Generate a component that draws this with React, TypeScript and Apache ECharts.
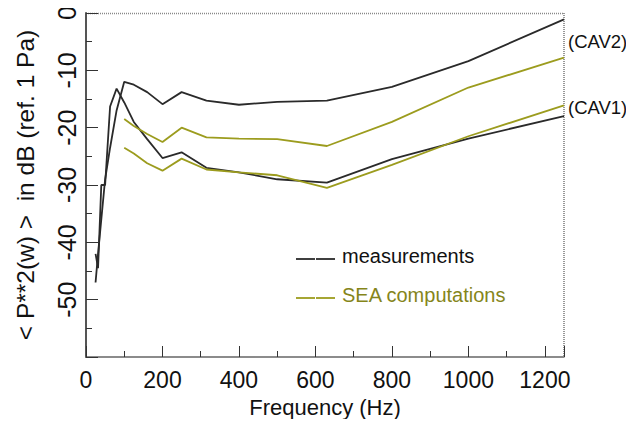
import React, { useEffect, useRef } from "react";
import * as echarts from "echarts";

const freqs = [25, 31.5, 40, 50, 63, 80, 100, 125, 160, 200, 250, 315, 400, 500, 630, 800, 1000, 1250];
const measCav2 = [-47, -42, -36, -29, -23.5, -17, -12, -12.5, -13.8, -15.9, -13.8, -15.3, -16, -15.5, -15.3, -12.9, -8.4, -1.1];
const measCav1 = [-42, -44.5, -30, -30, -16.3, -13.2, -15.6, -19, -22, -25.3, -24.3, -27, -27.8, -29, -29.6, -25.5, -21.9, -18];
const seaFreqs = [100, 125, 160, 200, 250, 315, 400, 500, 630, 800, 1000, 1250];
const seaCav2 = [-18.5, -19.7, -21.1, -22.5, -20, -21.7, -21.9, -22, -23.2, -19, -13, -7.8];
const seaCav1 = [-23.5, -24.5, -26.2, -27.5, -25.4, -27.3, -27.8, -28.3, -30.5, -26.5, -21.5, -16.1];
const xTicks = [0, 200, 400, 600, 800, 1000, 1200];
const yTicks = [0, -10, -20, -30, -40, -50];

const FONT = '"Liberation Sans Narrow", "Arial Narrow", "Liberation Sans", Arial, sans-serif';
const BLACK = "#2a2a2a";
const OLIVE = "#9c9c1e";
const OLIVE_TEXT = "#85851a";

export default function App() {
  const ref = useRef<HTMLDivElement>(null);
  useEffect(() => {
    if (!ref.current) return;
    const chart = echarts.init(ref.current, null, { renderer: "svg" });
    const pair = (xs: number[], ys: number[]) => xs.map((x, i) => [x, ys[i]]);
    const lineSeries = (name: string, data: number[][], color: string) => ({
      type: "line",
      name,
      data,
      showSymbol: false,
      symbol: "none",
      lineStyle: { color, width: 1.8 },
      itemStyle: { color },
    });
    chart.setOption({
      animation: false,
      backgroundColor: "#ffffff",
      grid: { left: 86, right: 70, top: 13, bottom: 70, show: false },
      xAxis: {
        type: "value",
        min: 0,
        max: 1250,
        interval: 200,
        name: "Frequency (Hz)",
        nameLocation: "middle",
        nameGap: 39,
        nameTextStyle: { fontFamily: FONT, fontSize: 22, color: "#111" },
        axisLine: { show: true, onZero: false, lineStyle: { color: "#666", width: 1.5 } },
        axisTick: { show: true, inside: true, length: 11, lineStyle: { color: "#333", width: 1 } },
        minorTick: { show: true, splitNumber: 2, length: 6, lineStyle: { color: "#333", width: 1 } },
        splitLine: { show: false },
        axisLabel: {
          showMaxLabel: false,
          fontFamily: FONT,
          fontSize: 23,
          color: "#111",
          margin: 11,
          formatter: (v: number) => (xTicks.includes(v) ? String(v) : ""),
        },
      },
      yAxis: {
        type: "value",
        min: -60,
        max: 0,
        interval: 10,
        name: "< P**2(w) >  in dB (ref. 1 Pa)",
        nameLocation: "middle",
        nameGap: 48,
        nameRotate: 90,
        nameTextStyle: { fontFamily: FONT, fontSize: 24.5, color: "#111" },
        axisLine: { show: true, onZero: false, lineStyle: { color: "#555", width: 2 } },
        axisTick: { show: true, inside: true, length: 12, lineStyle: { color: "#333", width: 1 } },
        minorTick: { show: true, splitNumber: 2, length: 6, lineStyle: { color: "#333", width: 1 } },
        splitLine: { show: false },
        axisLabel: {
          rotate: 90,
          fontFamily: FONT,
          fontSize: 25,
          color: "#111",
          margin: 7,
          formatter: (v: number) => (yTicks.includes(v) ? String(v) : ""),
        },
      },
      series: [
        lineSeries("measurements", pair(freqs, measCav2), BLACK),
        lineSeries("measurements", pair(freqs, measCav1), BLACK),
        lineSeries("SEA computations", pair(seaFreqs, seaCav2), OLIVE),
        lineSeries("SEA computations", pair(seaFreqs, seaCav1), OLIVE),
      ],
      graphic: [
        { type: "line", shape: { x1: 86, y1: 13.5, x2: 564, y2: 13.5 }, style: { stroke: "#888", lineWidth: 1.5, lineDash: [1, 1] }, silent: true },
        { type: "line", shape: { x1: 564, y1: 13, x2: 564, y2: 357 }, style: { stroke: "#777", lineWidth: 1.5, lineDash: [1, 1] }, silent: true },
        { type: "text", left: 568, top: 32, style: { text: "(CAV2)", fontFamily: FONT, fontSize: 18.5, fill: "#111" } },
        { type: "text", left: 568, top: 98, style: { text: "(CAV1)", fontFamily: FONT, fontSize: 18.5, fill: "#111" } },
        { type: "line", shape: { x1: 296, y1: 259, x2: 315, y2: 259 }, style: { stroke: BLACK, lineWidth: 1.8 } },
        { type: "line", shape: { x1: 316, y1: 259, x2: 335, y2: 259 }, style: { stroke: BLACK, lineWidth: 1.8 } },
        { type: "line", shape: { x1: 296, y1: 298, x2: 315, y2: 298 }, style: { stroke: OLIVE, lineWidth: 1.8 } },
        { type: "line", shape: { x1: 316, y1: 298, x2: 335, y2: 298 }, style: { stroke: OLIVE, lineWidth: 1.8 } },
        { type: "text", left: 342, top: 246, style: { text: "measurements", fontFamily: FONT, fontSize: 20, fill: "#111" } },
        { type: "text", left: 342, top: 285, style: { text: "SEA computations", fontFamily: FONT, fontSize: 20, fill: OLIVE_TEXT } },
      ],
    });
    return () => chart.dispose();
  }, []);
  return <div ref={ref} style={{ width: 634, height: 427, margin: -8 }} />;
}
